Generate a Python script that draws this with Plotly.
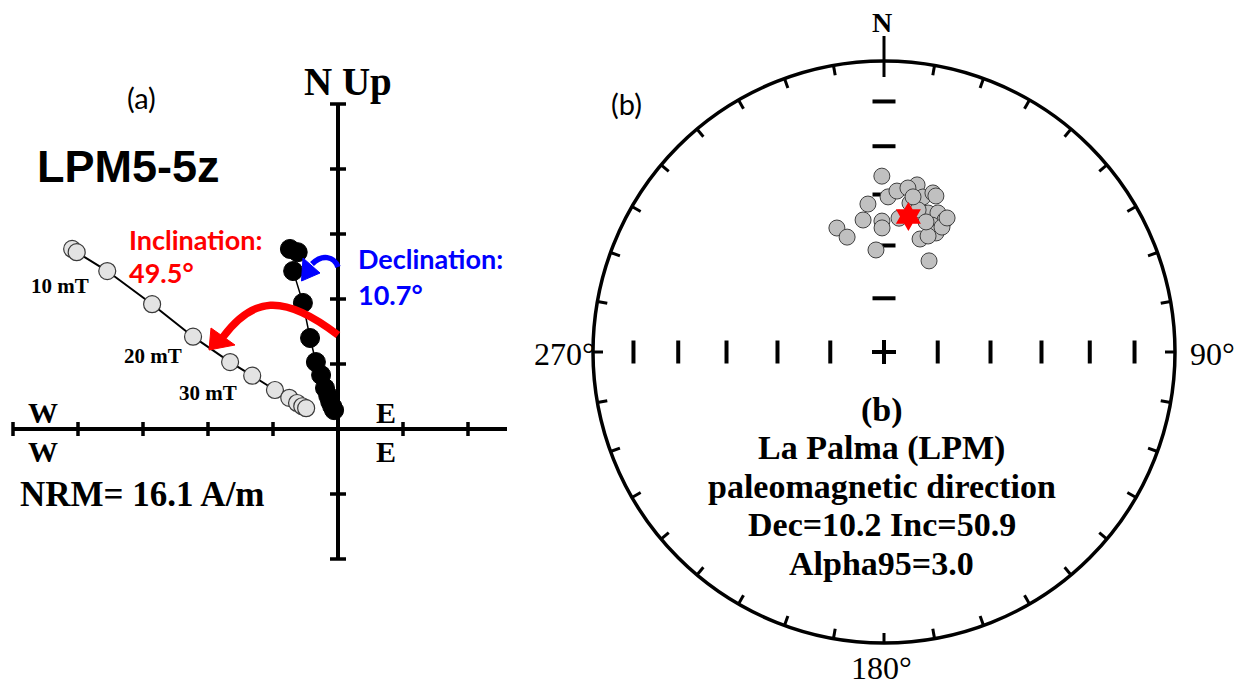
import numpy as np
import plotly.graph_objects as go

W, H = 1246, 687

# ---------------- data: panel (a) orthogonal vector plot (units = one axis tick) ----------------
vert_x = [-4.09, -4.02, -3.55, -2.86, -2.23, -1.66, -1.32, -0.97, -0.75, -0.63, -0.55, -0.49]
vert_y = [2.77, 2.72, 2.43, 1.92, 1.42, 1.03, 0.82, 0.60, 0.48, 0.40, 0.35, 0.32]
horz_x = [-0.74, -0.62, -0.69, -0.54, -0.43, -0.34, -0.26, -0.20, -0.15, -0.12, -0.09, -0.06]
horz_y = [2.77, 2.72, 2.43, 1.94, 1.40, 1.03, 0.83, 0.63, 0.51, 0.42, 0.35, 0.29]
x_ticks_a = [-5, -4, -3, -2, -1, 1, 2]
y_ticks_a = [-2, -1, 1, 2, 3, 4, 5]
step_labels = ["10 mT", "20 mT", "30 mT"]
sample_name = "LPM5-5z"
nrm_text = "NRM= 16.1 A/m"
inc_text = ["Inclination:", "49.5°"]
dec_text = ["Declination:", "10.7°"]

# ---------------- data: panel (b) equal-area stereonet ----------------
site_dec = [359.3, 353.8, 351.0, 339.2, 342.2, 359.1, 359.1, 355.5, 6.4, 1.5,
            4.6, 11.2, 8.3, 14.1, 17.1, 18.4, 9.9, 17.6, 21.2, 24.8,
            20.7, 23.6, 17.7, 20.8, 26.3, 13.5, 17.9, 24.9, 25.2, 10.6]
site_inc = [39.4, 47.6, 52.1, 52.4, 55.9, 52.9, 54.9, 61.2, 51.8, 45.7,
            43.8, 41.1, 42.5, 44.3, 42.3, 42.9, 46.9, 48.5, 47.5, 48.6,
            51.5, 53.2, 56.5, 54.9, 61.4, 48.4, 51.2, 50.9, 47.8, 44.9]
mean_dec, mean_inc = 10.2, 50.9
azimuth_ticks = list(range(0, 360, 10))
incl_ticks = [15, 30, 45, 60, 75]
title_lines = ["(b)", "La Palma (LPM)", "paleomagnetic direction",
               "Dec=10.2 Inc=50.9", "Alpha95=3.0"]

# ---------------- geometry ----------------
AX0, AY0, AS = 338, 429, 65     # panel (a) origin (px) and px per tick unit
SPLIT = 560
BX0, BY0, BR = 884, 352, 291    # stereonet centre (px) and radius (px)

SERIF = "Liberation Serif"
SANS_A = "Lato"


def ea(dec, inc):
    d = np.radians(np.asarray(dec, float))
    r = np.sqrt(2) * np.sin(np.radians(90 - np.asarray(inc, float)) / 2)
    return r * np.sin(d), r * np.cos(d)


def la(px, py):
    return (px - AX0) / AS, (AY0 - py) / AS


fig = go.Figure()
shapes = []
ann = []

# ---- panel (a) axes ----
LW = 4
shapes.append(dict(type="line", xref="x", yref="y", x0=-5, x1=(507 - AX0) / AS, y0=0, y1=0,
                   line=dict(color="black", width=LW)))
shapes.append(dict(type="line", xref="x", yref="y", x0=0, x1=0, y0=-1.99, y1=4.99,
                   line=dict(color="black", width=LW)))
tx, ty = [], []
for t in x_ticks_a:
    tx += [t, t, None]
    ty += [-7 / AS, 7 / AS, None]
for t in y_ticks_a:
    tx += [-8 / AS, 8 / AS, None]
    ty += [t, t, None]
fig.add_trace(go.Scatter(x=tx, y=ty, mode="lines", line=dict(color="black", width=3.5),
                         xaxis="x", yaxis="y", hoverinfo="skip"))

# data traces
fig.add_trace(go.Scatter(x=vert_x, y=vert_y, mode="lines+markers", xaxis="x", yaxis="y",
                         line=dict(color="black", width=2),
                         marker=dict(size=17, color="#e3e3e3", line=dict(color="#3a3a3a", width=1.2))))
fig.add_trace(go.Scatter(x=horz_x, y=horz_y, mode="lines+markers", xaxis="x", yaxis="y",
                         line=dict(color="black", width=1.5),
                         marker=dict(size=19, color="black", line=dict(color="black", width=1))))

# red inclination arrow
p = [la(338, 335), la(282, 292), la(252, 298), la(223, 337)]
shapes.append(dict(type="path", xref="x", yref="y",
                   path="M {},{} C {},{} {},{} {},{}".format(*[v for pt in p for v in pt]),
                   line=dict(color="#ff0000", width=7.5)))
h = [la(209, 350), la(211, 328), la(235, 345)]
shapes.append(dict(type="path", xref="x", yref="y",
                   path="M {},{} L {},{} L {},{} Z".format(*[v for pt in h for v in pt]),
                   fillcolor="#ff0000", line=dict(color="#ff0000", width=1)))
# blue declination arrow
p = [la(338, 267), la(334, 256), la(322, 254), la(312, 264)]
shapes.append(dict(type="path", xref="x", yref="y",
                   path="M {},{} C {},{} {},{} {},{}".format(*[v for pt in p for v in pt]),
                   line=dict(color="#0000ff", width=5.5)))
h = [la(301.5, 281), la(303, 258), la(320, 273)]
shapes.append(dict(type="path", xref="x", yref="y",
                   path="M {},{} L {},{} L {},{} Z".format(*[v for pt in h for v in pt]),
                   fillcolor="#0000ff", line=dict(color="#0000ff", width=1)))

# ---- panel (b) stereonet ----
shapes.append(dict(type="circle", xref="x2", yref="y2", x0=-1, x1=1, y0=-1, y1=1,
                   line=dict(color="black", width=3.5)))
sx, sy = [], []
for a in azimuth_ticks:
    r0, r1 = (1 + 25 / BR, 1 - 16 / BR) if a == 0 else (1.0, 1 - 10 / BR)
    s, c = np.sin(np.radians(a)), np.cos(np.radians(a))
    sx += [r0 * s, r1 * s, None]
    sy += [r0 * c, r1 * c, None]
fig.add_trace(go.Scatter(x=sx, y=sy, mode="lines", line=dict(color="black", width=3),
                         xaxis="x2", yaxis="y2", hoverinfo="skip"))
dx, dy = [], []
hl = 11.5 / BR
for inc in incl_ticks:
    r = np.sqrt(2) * np.sin(np.radians(90 - inc) / 2)
    dx += [-hl, hl, None]; dy += [r, r, None]          # north
    dx += [r, r, None]; dy += [-hl, hl, None]          # east
    dx += [-r, -r, None]; dy += [-hl, hl, None]        # west
ch = 12 / BR
dx += [-ch, ch, None, 0, 0, None]
dy += [0, 0, None, -ch, ch, None]
fig.add_trace(go.Scatter(x=dx, y=dy, mode="lines", line=dict(color="black", width=4),
                         xaxis="x2", yaxis="y2", hoverinfo="skip"))

px_, py_ = ea(site_dec, site_inc)
fig.add_trace(go.Scatter(x=px_, y=py_, mode="markers", xaxis="x2", yaxis="y2",
                         marker=dict(size=16, color="#c0c0c0", line=dict(color="#404040", width=1))))
mx, my = ea([mean_dec], [mean_inc])
fig.add_trace(go.Scatter(x=mx, y=my, mode="markers", xaxis="x2", yaxis="y2",
                         marker=dict(symbol="hexagram", size=22, color="#ff0000",
                                     line=dict(color="#ff0000", width=0))))


# ---- text ----
def txt(s, px, py, size, family=SERIF, color="black", bold=False, xanchor="center"):
    ann.append(dict(text=f"<b>{s}</b>" if bold else s, x=px / W, y=1 - py / H,
                    xref="paper", yref="paper", showarrow=False, xanchor=xanchor, yanchor="middle",
                    font=dict(size=size, family=family, color=color)))


txt("(a)", 141, 98, 29, SANS_A)
txt("N Up", 348, 82, 39, bold=True)
txt(sample_name, 128, 166, 45, "Liberation Sans", bold=True)
txt(inc_text[0], 127, 239, 27, SANS_A, "#ff0000", True, "left")
txt(inc_text[1], 127, 273, 27, SANS_A, "#ff0000", True, "left")
txt(dec_text[0], 356, 258, 27, SANS_A, "#0000ff", True, "left")
txt(dec_text[1], 356, 294, 27, SANS_A, "#0000ff", True, "left")
txt(step_labels[0], 60, 286, 21, bold=True)
txt(step_labels[1], 153, 356, 21, bold=True)
txt(step_labels[2], 208, 393, 21, bold=True)
for yy in (412, 451):
    txt("W", 43, yy, 30, bold=True)
    txt("E", 386, yy, 30, bold=True)
txt(nrm_text, 142, 494, 35, bold=True)

txt("(b)", 626, 104, 29, SANS_A)
txt("N", 882, 22, 28, bold=True)
txt("270°", 564, 354, 32)
txt("90°", 1212, 354, 32)
txt("180°", 882, 668, 32)
for i, line in enumerate(title_lines):
    txt(line, 882, 410 + 38.3 * i, 34, bold=True)

fig.update_layout(
    width=W, height=H, margin=dict(l=0, r=0, t=0, b=0),
    paper_bgcolor="white", plot_bgcolor="white", showlegend=False, hovermode=False,
    shapes=shapes, annotations=ann,
    xaxis=dict(domain=[0, SPLIT / W], range=[(0 - AX0) / AS, (SPLIT - AX0) / AS], visible=False,
               fixedrange=True),
    yaxis=dict(domain=[0, 1], range=[(AY0 - H) / AS, AY0 / AS], visible=False, fixedrange=True),
    xaxis2=dict(domain=[SPLIT / W, 1], range=[(SPLIT - BX0) / BR, (W - BX0) / BR], visible=False,
                fixedrange=True, anchor="y2"),
    yaxis2=dict(domain=[0, 1], range=[(BY0 - H) / BR, BY0 / BR], visible=False, fixedrange=True,
                anchor="x2"),
)
fig.write_html("out.html")
